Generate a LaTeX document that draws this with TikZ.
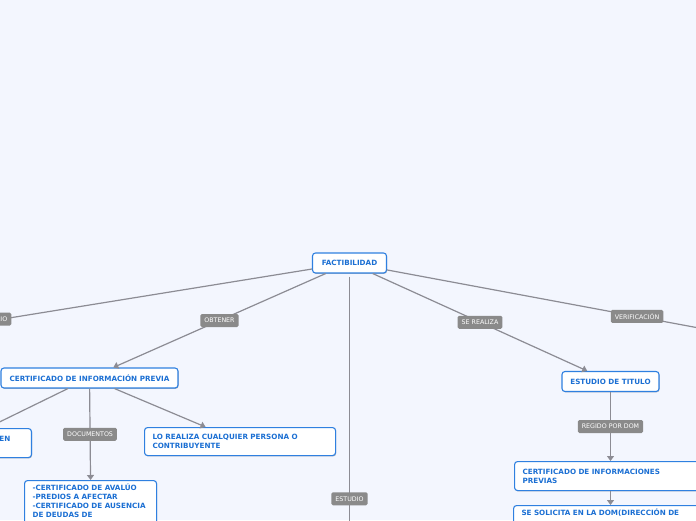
\documentclass[tikz,border=0pt]{standalone}
\usepackage{fontspec}
\setmainfont{DejaVu Sans}
\usetikzlibrary{arrows.meta,shadows}
\definecolor{bgcol}{HTML}{F3F6FE}
\definecolor{nodeblue}{HTML}{2F80E0}
\definecolor{textblue}{HTML}{1B6FD3}
\definecolor{edgegray}{HTML}{8C8C94}
\definecolor{lblgray}{HTML}{8A8A8A}
\tikzset{
  box/.style={draw=nodeblue, line width=1.1pt, rounded corners=3pt, fill=white,
    text=textblue, font=\fontsize{7.2}{9}\selectfont\bfseries, inner xsep=8pt, inner ysep=3pt,
    drop shadow={shadow xshift=0.6pt, shadow yshift=-0.9pt, opacity=0.25, fill=black}},
  lbl/.style={fill=lblgray, text=white, rounded corners=1.5pt,
    font=\fontsize{6.3}{7}\selectfont, inner xsep=4pt, inner ysep=2pt, minimum height=13pt},
  edge/.style={draw=edgegray, line width=1.2pt},
  arr/.style={edge, -{Triangle[width=7pt,length=5pt]}}
}
\begin{document}
\begin{tikzpicture}[x=1pt,y=-1pt]
\useasboundingbox (0,0) rectangle (696,520);
\fill[bgcol] (0,0) rectangle (696,520);
\clip (0,0) rectangle (696,520);

% nodes
\node[box, minimum width=74pt, minimum height=20pt] (fact) at (349.5,263) {FACTIBILIDAD};
\node[box, minimum width=177pt, minimum height=20pt] (cert) at (89.5,378) {CERTIFICADO DE INFORMACIÓN PREVIA};
\node[box, minimum width=97pt, minimum height=20pt] (tit) at (610.5,381.5) {ESTUDIO DE TITULO};
\node[box, anchor=north east, minimum width=150pt, minimum height=29pt, text width=134pt, align=left] (en) at (32,428) {\hspace*{110pt}EN\\\mbox{}};
\node[box, anchor=north west, minimum width=191pt, minimum height=28pt, text width=175pt, align=left] (lo) at (144,427) {LO REALIZA CUALQUIER PERSONA O\\CONTRIBUYENTE};
\node[box, anchor=north west, minimum width=132pt, text width=116pt, align=left, inner ysep=3pt] (docs) at (24,480) {-CERTIFICADO DE AVALÚO\\-PREDIOS A AFECTAR\\-CERTIFICADO DE AUSENCIA\\DE DEUDAS DE\\\mbox{}\\\mbox{}};
\node[box, anchor=north west, minimum width=196pt, minimum height=29pt, text width=180pt, align=left] (certinf) at (514,461) {CERTIFICADO DE INFORMACIONES\\PREVIAS};
\node[box, anchor=north west, minimum width=196pt, text width=180pt, align=left] (sesol) at (513,505) {SE SOLICITA EN LA DOM(DIRECCIÓN DE\\\mbox{}\\\mbox{}};

% free ends
\coordinate (rioT) at (-300,368);
\coordinate (verT) at (887,363);
\coordinate (estT) at (349.5,724);

% connectors
\draw[edge] (fact) -- node[lbl, pos=0.507] (rio) {RIO} (rioT);
\draw[arr] (fact) -- node[lbl] (obt) {OBTENER} (cert);
\draw[arr] (fact) -- node[lbl] (ser) {SE REALIZA} (tit);
\draw[edge] (fact) -- node[lbl] (ver) {VERIFICACIÓN} (verT);
\draw[arr, shorten <=3pt] (fact) -- node[lbl] (est) {ESTUDIO} (estT);
\draw[arr] (cert) -- (en);
\draw[arr] (cert) -- node[lbl] (doc) {DOCUMENTOS} (docs.north);
\draw[arr] (cert) -- (lo);
\draw[arr] (tit) -- node[lbl] (reg) {REGIDO POR DOM} (certinf.north -| tit.south);
\draw[arr] (certinf.south -| tit.south) -- (sesol.north -| tit.south);
\end{tikzpicture}
\end{document}
